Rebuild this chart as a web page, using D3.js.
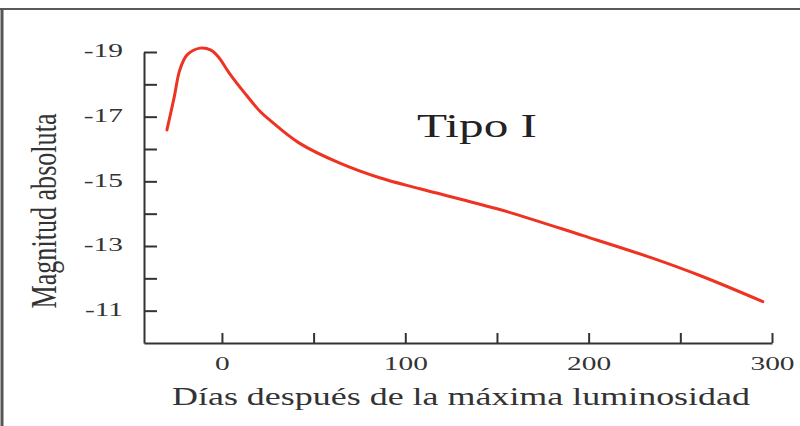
<!DOCTYPE html>
<html>
<head>
<meta charset="utf-8">
<script src="https://cdn.jsdelivr.net/npm/d3@7"></script>
<style>
  body { margin: 0; background: #fff; }
  svg { display: block; font-family: "Liberation Serif", "Times New Roman", serif; }
</style>
</head>
<body>
<svg id="chart" width="800" height="426"></svg>
<script>
// light curve
const days = [-30, -26, -23, -19, -12, -6, -2, 4, 12, 21, 26, 42, 64, 86, 108, 152, 197, 234, 261, 295];
const magnitudes = [-16.59, -17.61, -18.44, -18.91, -19.12, -19.06, -18.85, -18.35, -17.76, -17.15, -16.9, -16.19, -15.57, -15.11, -14.77, -14.12, -13.32, -12.64, -12.08, -11.28];

const xTicks = [0, 50, 100, 150, 200, 250, 300];
const xLabels = [0, 100, 200, 300];
const yTicks = [-19, -18, -17, -16, -15, -14, -13, -12, -11, -10];
const yLabels = [-19, -17, -15, -13, -11];

const stretch = 1.55; // the original figure is wider than tall

const svg = d3.select('#chart');

// frame lines (top and left)
svg.append('line')
  .attr('x1', 0).attr('x2', 800).attr('y1', 9).attr('y2', 9)
  .attr('stroke', '#5a5a5a').attr('stroke-width', 2);
svg.append('line')
  .attr('x1', 2).attr('x2', 2).attr('y1', 9).attr('y2', 426)
  .attr('stroke', '#555').attr('stroke-width', 3);

const x = d3.scaleLinear().domain([-42.5, 300]).range([144, 772]);
const y = d3.scaleLinear().domain([-19, -10]).range([52, 343]);

// x axis, ticks pointing up
const gx = svg.append('g')
  .attr('transform', 'translate(0,' + y(-10) + ')')
  .call(d3.axisBottom(x)
    .tickValues(xTicks)
    .tickSize(-10)
    .tickSizeOuter(0)
    .tickPadding(14)
    .tickFormat(d => xLabels.includes(d) ? d : ''));

// y axis, ticks pointing right
const gy = svg.append('g')
  .attr('transform', 'translate(' + x(-42.5) + ',0)')
  .call(d3.axisLeft(y)
    .tickValues(yTicks)
    .tickSize(-13)
    .tickSizeOuter(0)
    .tickPadding(21)
    .tickFormat(d => yLabels.includes(d) ? d : ''));

gy.selectAll('.tick').filter(d => d === -10).select('line').remove();

[gx, gy].forEach(g => {
  g.select('.domain').attr('stroke', '#333').attr('stroke-width', 2);
  g.selectAll('.tick line').attr('stroke', '#333').attr('stroke-width', 2);
  g.selectAll('.tick text')
    .attr('font-family', '"Liberation Serif", "Times New Roman", serif')
    .attr('font-size', 19)
    .attr('fill', '#333')
    .attr('transform', 'scale(' + stretch + ',1)');
});
gy.selectAll('.tick text').attr('x', -21 / stretch).attr('dy', '0.26em');

// curve
const line = d3.line()
  .x((d, i) => x(days[i]))
  .y(d => y(d))
  .curve(d3.curveCatmullRom.alpha(0.5));

svg.append('path')
  .datum(magnitudes)
  .attr('d', line)
  .attr('fill', 'none')
  .attr('stroke', '#ee3322')
  .attr('stroke-width', 3)
  .attr('stroke-linecap', 'round');

// titles
svg.append('text')
  .attr('x', 461).attr('y', 405)
  .attr('text-anchor', 'middle')
  .attr('font-size', 25)
  .attr('fill', '#333')
  .attr('textLength', 578)
  .attr('lengthAdjust', 'spacingAndGlyphs')
  .text('Días después de la máxima luminosidad');

svg.append('text')
  .attr('transform', 'translate(56,211) scale(1.4,1) rotate(-90)')
  .attr('text-anchor', 'middle')
  .attr('font-size', 25)
  .attr('fill', '#333')
  .attr('textLength', 195)
  .attr('lengthAdjust', 'spacingAndGlyphs')
  .text('Magnitud absoluta');

svg.append('text')
  .attr('x', 477).attr('y', 137)
  .attr('text-anchor', 'middle')
  .attr('font-size', 34)
  .attr('fill', '#222')
  .attr('textLength', 120)
  .attr('lengthAdjust', 'spacingAndGlyphs')
  .text('Tipo I');
</script>
</body>
</html>
